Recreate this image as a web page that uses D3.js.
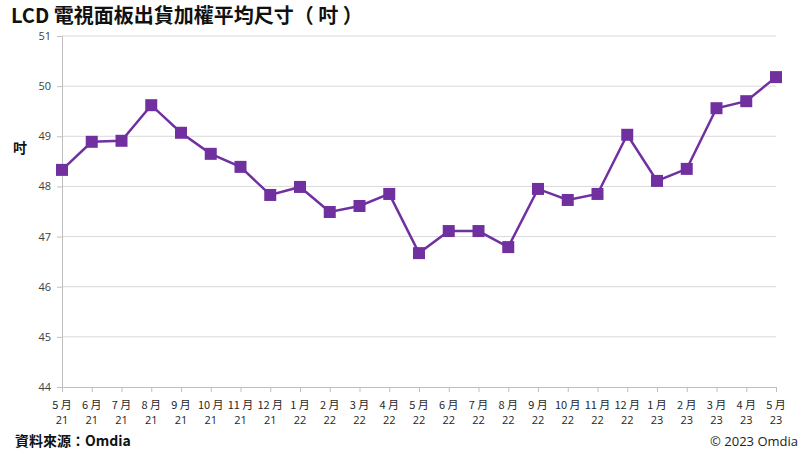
<!DOCTYPE html>
<html><head><meta charset="utf-8">
<script src="https://cdn.jsdelivr.net/npm/d3@7"></script>
<style>
body{margin:0;background:#fff;}
svg{display:block;font-family:"Noto Sans CJK TC","Noto Sans",sans-serif;}
</style></head>
<body><svg id="c" width="800" height="451"></svg>
<script>
const months = ["5 月","6 月","7 月","8 月","9 月","10 月","11 月","12 月","1 月","2 月","3 月","4 月","5 月","6 月","7 月","8 月","9 月","10 月","11 月","12 月","1 月","2 月","3 月","4 月","5 月"];
const years = ["21","21","21","21","21","21","21","21","22","22","22","22","22","22","22","22","22","22","22","22","23","23","23","23","23"];
const values = [48.33,48.89,48.91,49.62,49.07,48.65,48.39,47.83,47.99,47.49,47.61,47.85,46.67,47.11,47.11,46.79,47.95,47.73,47.85,49.03,48.11,48.35,49.56,49.70,50.18];
const yTicks = [44,45,46,47,48,49,50,51];

const svg = d3.select("#c");
const mL = 62, mR = 776, mT = 36, mB = 387;
const idx = d3.range(values.length);
const x = d3.scalePoint().domain(idx).range([mL, mR]);
const y = d3.scaleLinear().domain([44, 51]).range([mB, mT]);
const purple = "#7030A0";

// gridlines
svg.append("g").selectAll("line").data(yTicks.filter(d => d > 44)).join("line")
  .attr("x1", mL).attr("x2", mR)
  .attr("y1", d => y(d)).attr("y2", d => y(d))
  .attr("stroke", "#d9d9d9").attr("stroke-width", 1);

// y axis
const ya = svg.append("g").attr("transform", `translate(${mL},0)`)
  .call(d3.axisLeft(y).tickValues(yTicks).tickSize(5).tickPadding(6).tickFormat(d3.format("d")));
ya.select(".domain").attr("stroke", "#bfbfbf");
ya.selectAll(".tick line").attr("stroke", "#bfbfbf");
ya.selectAll("text").attr("fill", "#404040").style("font-size", "11px")
  .style("font-family", "'Open Sans','Noto Sans',sans-serif");

// x axis
const xa = svg.append("g").attr("transform", `translate(0,${mB})`)
  .call(d3.axisBottom(x).tickSize(5).tickFormat(""));
xa.select(".domain").attr("stroke", "#bfbfbf");
xa.selectAll(".tick line").attr("stroke", "#bfbfbf");
const lbl = svg.append("g").selectAll("text").data(idx).join("text")
  .attr("text-anchor", "middle").attr("fill", "#262626")
  .style("font-size", "11px");
lbl.append("tspan").attr("x", d => x(d)).attr("y", 409).text(d => months[d]);
lbl.append("tspan").attr("x", d => x(d)).attr("y", 424).text(d => years[d])
  .style("font-family", "'Open Sans','Noto Sans',sans-serif");

// line
svg.append("path").datum(idx)
  .attr("d", d3.line().x(d => x(d)).y(d => y(values[d])))
  .attr("fill", "none").attr("stroke", purple).attr("stroke-width", 2.5);

// markers
const s = 12;
svg.append("g").selectAll("rect").data(idx).join("rect")
  .attr("x", d => x(d) - s/2).attr("y", d => y(values[d]) - s/2)
  .attr("width", s).attr("height", s).attr("fill", purple);

// title
svg.append("text").attr("x", 11).attr("y", 23)
  .attr("font-weight", "bold").attr("fill", "#111").style("font-size", "20px")
  .text("LCD 電視面板出貨加權平均尺寸（ 吋 ）");

// y title
svg.append("text").attr("x", 20).attr("y", 153).attr("text-anchor", "middle")
  .attr("font-weight", "bold").attr("fill", "#111").style("font-size", "14px").text("吋");

// footer
svg.append("text").attr("x", 15).attr("y", 446)
  .attr("font-weight", "bold").attr("fill", "#111").style("font-size", "14px").text("資料來源：Omdia");
svg.append("text").attr("x", 798).attr("y", 446).attr("text-anchor", "end")
  .attr("fill", "#222").style("font-size", "13px").style("font-family", "'Open Sans','Noto Sans',sans-serif")
  .text("© 2023 Omdia");
</script></body></html>
